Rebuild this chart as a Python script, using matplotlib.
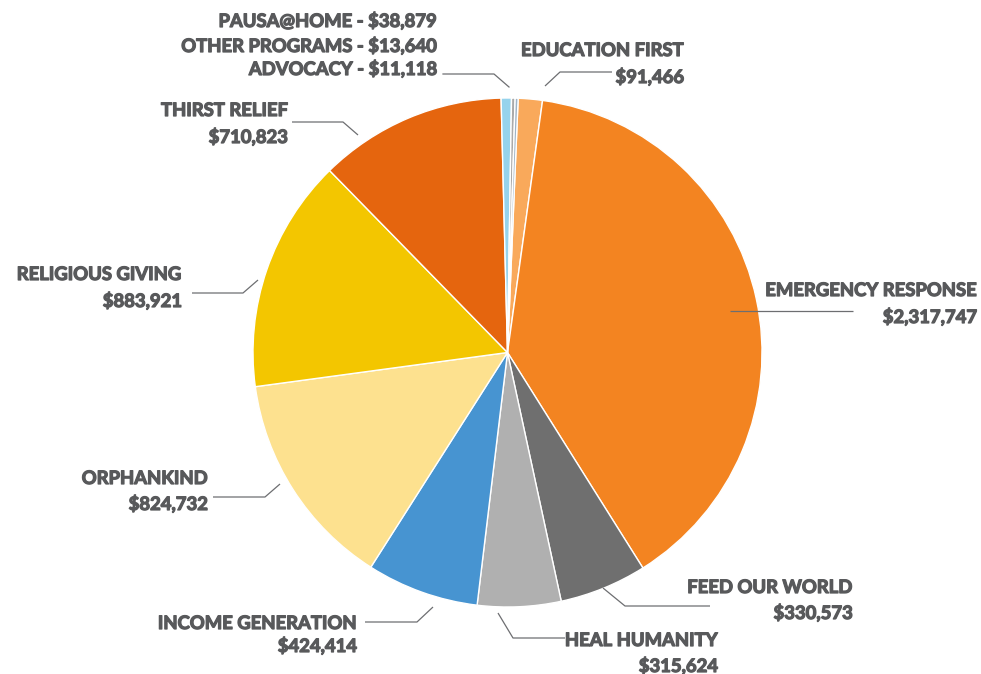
import matplotlib
matplotlib.use('Agg')
import matplotlib.pyplot as plt
import matplotlib.patheffects as pe

W, H = 981, 674

# data
programs = ['Education First', 'Emergency Response', 'Feed Our World', 'Heal Humanity',
            'Income Generation', 'Orphankind', 'Religious Giving', 'Thirst Relief',
            'PAUSA@Home', 'Other Programs', 'Advocacy']
amounts = [91466, 2317747, 330573, 315624, 424414, 824732, 883921, 710823,
           38879, 13640, 11118]
colors = ['#f9a95b', '#f38421', '#6f6f6f', '#b0b0b0', '#4794d1', '#fde18f',
          '#f3c600', '#e5650e', '#96d3ec', '#aaaaaa', '#9fb4c6']

# layout in image pixels (x right edge of text, baselines, leader path)
two_line = {
    'Education First':    (684, 56, 83, [(545, 86), (560, 72), (612, 72)]),
    'Emergency Response': (977, 296, 323, [(730, 311), (853, 311)]),
    'Feed Our World':     (853, 593, 619, [(603, 588), (625, 606), (710, 606)]),
    'Heal Humanity':      (718, 646, 672, [(498, 613), (513, 638), (565, 638)]),
    'Income Generation':  (357, 629, 652, [(433, 607), (417, 622), (365, 622)]),
    'Orphankind':         (208, 484, 510, [(280, 484), (265, 497), (213, 497)]),
    'Religious Giving':   (182, 280, 307, [(258, 280), (243, 293), (192, 293)]),
    'Thirst Relief':      (288, 116, 143, [(358, 135), (343, 122), (292, 122)]),
}
one_line = {
    'PAUSA@Home':     (437, 27),
    'Other Programs': (437, 52),
    'Advocacy':       (437, 75),
}
advocacy_leader = [(443, 74), (494, 74), (509, 87)]

center = (507.5, H - 352.5)
radius = 254.5
text_color = '#58595b'
line_color = '#6d6e71'

fig = plt.figure(figsize=(W / 100, H / 100), dpi=100)
ax = fig.add_axes([0, 0, 1, 1])

ax.pie(amounts, colors=colors, startangle=87.6, counterclock=False,
       center=center, radius=radius,
       wedgeprops=dict(edgecolor='white', linewidth=1.0))

# thicken the glyphs a little so they read as heavy like the reference
heavy = [pe.withStroke(linewidth=0.9, foreground=text_color)]
font = dict(family=['Lato', 'DejaVu Sans'], weight='bold', size=13.3, color=text_color,
            path_effects=heavy)

for name, amount in zip(programs, amounts):
    value = '${:,}'.format(amount)
    if name in two_line:
        x, y1, y2, path = two_line[name]
        ax.text(x, H - y1, name.upper(), ha='right', va='baseline', **font)
        ax.text(x, H - y2, value, ha='right', va='baseline', **font)
        ax.plot([p[0] for p in path], [H - p[1] for p in path],
                color=line_color, linewidth=0.9, solid_capstyle='butt')
    else:
        x, y1 = one_line[name]
        ax.text(x, H - y1, name.upper() + ' - ' + value, ha='right', va='baseline', **font)

ax.plot([p[0] for p in advocacy_leader], [H - p[1] for p in advocacy_leader],
        color=line_color, linewidth=0.9)

ax.set_xlim(0, W)
ax.set_ylim(0, H)
ax.set_aspect('equal')
ax.axis('off')

fig.savefig('out.png', dpi=100, facecolor='white')
